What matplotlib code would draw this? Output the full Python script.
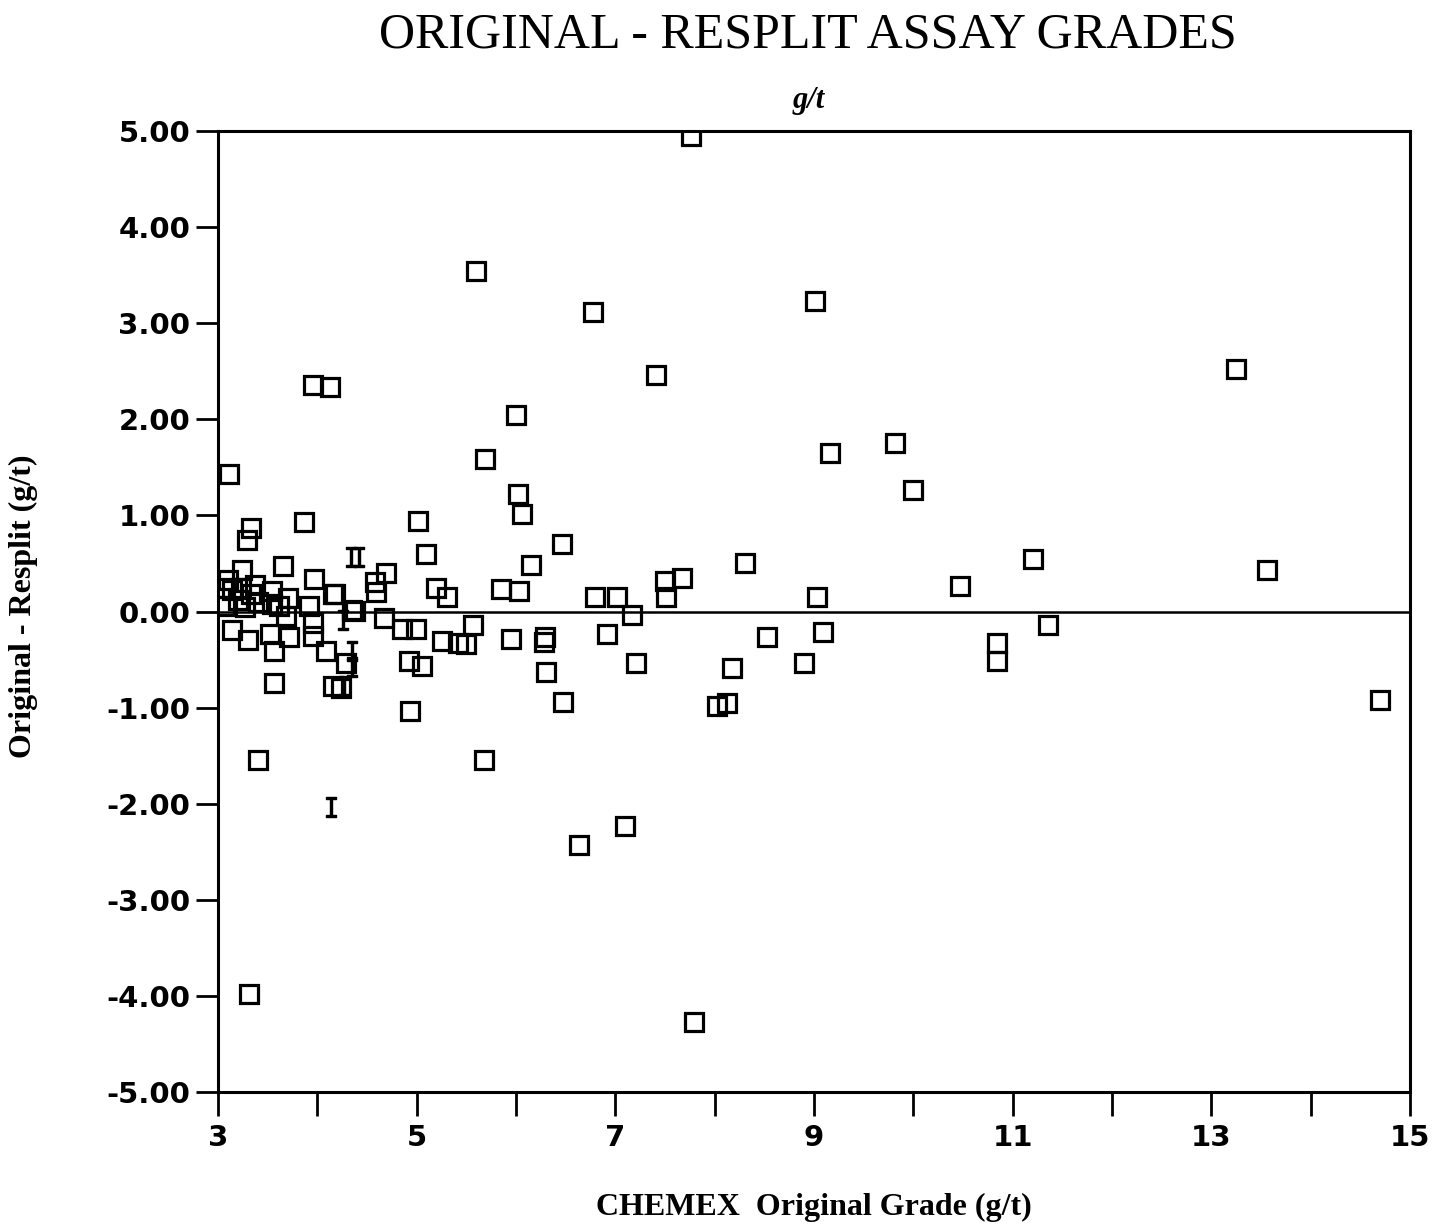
import numpy as np
import matplotlib.pyplot as plt

# values
grade = [7.76, 5.60, 6.77, 9.01, 7.41, 13.25, 3.96, 4.13, 6.00, 9.82,
         9.16, 5.69, 3.11, 10.00, 6.02, 6.06, 3.33, 3.29, 3.87, 5.01,
         6.46, 5.09, 6.15, 8.31, 11.20, 13.56, 10.47, 3.65, 4.69, 4.58,
         4.59, 5.19, 5.30, 5.85, 6.03, 7.50, 7.67, 7.51, 6.79, 7.02,
         9.03, 3.97, 3.70, 3.54, 3.92, 4.38, 4.18, 3.07, 3.24, 3.10,
         3.23, 3.33, 3.14, 3.07, 3.37, 3.20, 3.40, 3.27, 3.54, 3.61,
         3.14, 3.30, 3.52, 3.56, 3.71, 3.56, 3.40, 3.31, 3.96, 3.96,
         4.09, 4.16, 4.24, 4.29, 4.85, 4.99, 4.92, 5.05, 4.93, 5.25,
         5.42, 5.50, 5.57, 5.95, 6.29, 6.28, 6.30, 6.47, 5.68, 6.63,
         7.10, 6.92, 7.17, 7.21, 8.17, 8.02, 8.12, 8.53, 8.90, 9.09,
         10.84, 10.84, 11.36, 14.70, 7.79, 4.67, 4.16, 3.68, 4.35]
diff = [4.95, 3.54, 3.12, 3.23, 2.46, 2.52, 2.36, 2.34, 2.05, 1.75,
        1.65, 1.59, 1.43, 1.26, 1.22, 1.01, 0.87, 0.74, 0.93, 0.94,
        0.70, 0.60, 0.48, 0.51, 0.55, 0.43, 0.27, 0.47, 0.40, 0.31,
        0.20, 0.24, 0.15, 0.23, 0.21, 0.32, 0.35, 0.15, 0.15, 0.15,
        0.15, 0.34, 0.14, 0.21, 0.06, 0.01, 0.18, 0.06, 0.43, 0.33,
        0.25, 0.18, 0.22, 0.25, 0.28, 0.12, 0.10, 0.05, 0.08, 0.06,
        -0.19, -0.30, -0.23, -0.41, -0.27, -0.74, -1.55, -3.98, -0.25, -0.12,
        -0.41, -0.78, -0.80, -0.54, -0.18, -0.18, -0.51, -0.57, -1.04, -0.31,
        -0.33, -0.34, -0.14, -0.29, -0.26, -0.32, -0.63, -0.94, -1.54, -2.43,
        -2.23, -0.23, -0.04, -0.54, -0.59, -0.98, -0.95, -0.26, -0.54, -0.21,
        -0.33, -0.51, -0.14, -0.92, -4.27, -0.07, 0.18, -0.05, 0.02]

# overlapping points drawn as I-beams on the original plot
i_grade = [4.34, 4.42, 4.14, 4.26, 4.35, 4.35, 4.27]
i_diff = [0.57, 0.57, -2.03, -0.09, -0.41, -0.58, -0.78]

xticks = [3, 5, 7, 9, 11, 13, 15]
yticks = [5, 4, 3, 2, 1, 0, -1, -2, -3, -4, -5]

fig = plt.figure(figsize=(14.46, 12.27), dpi=100)
ax = fig.add_axes([0.1508, 0.110, 0.8243, 0.7832])

ax.axhline(0, color="black", lw=1.8, zorder=1)
ax.plot(grade, diff, ls="none", marker="s", ms=13, mfc="none", mec="black", mew=2.3, zorder=3)
ax.plot(i_grade, i_diff, ls="none", marker="$\\mathtt{I}$", ms=14, color="black", zorder=3)

ax.set_xlim(3, 15)
ax.set_ylim(-5, 5)
ax.set_xticks(range(3, 16))
ax.set_xticklabels([str(t) if t in xticks else "" for t in range(3, 16)])
ax.set_yticks(yticks)
ax.set_yticklabels(["%.2f" % t for t in yticks])

for s in ax.spines.values():
    s.set_linewidth(2.2)

ax.tick_params(axis="x", direction="out", length=17, width=2, pad=6)
ax.tick_params(axis="y", direction="out", length=16, width=2, pad=4)
for lab in ax.get_xticklabels() + ax.get_yticklabels():
    lab.set_fontfamily("DejaVu Sans")
    lab.set_fontweight("bold")
    lab.set_fontsize(21)

fig.text(0.559, 0.971, "ORIGINAL - RESPLIT ASSAY GRADES", ha="center", va="center",
         fontsize=36, family="Liberation Serif")
fig.text(0.559, 0.918, "g/t", ha="center", va="center", fontsize=22,
         family="Liberation Serif", fontweight="bold", style="italic")
fig.text(0.563, 0.016, "CHEMEX  Original Grade (g/t)", ha="center", va="center",
         fontsize=23, family="Liberation Serif", fontweight="bold")
fig.text(0.016, 0.506, "Original - Resplit (g/t)", ha="center", va="center",
         rotation=90, fontsize=23, family="Liberation Serif", fontweight="bold")

plt.savefig("out.png", dpi=100, facecolor="white")
